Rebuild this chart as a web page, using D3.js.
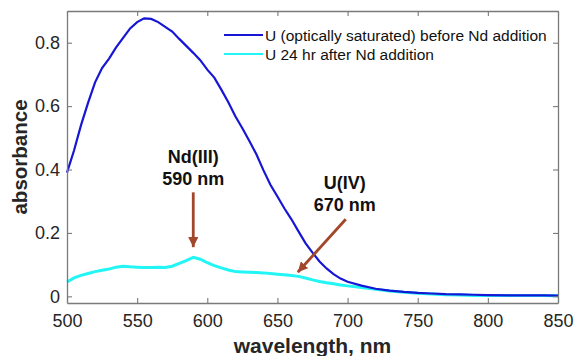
<!DOCTYPE html>
<html>
<head>
<meta charset="utf-8">
<script src="https://cdn.jsdelivr.net/npm/d3@7"></script>
<style>
  body { margin: 0; background: #fff; }
  svg text { font-family: Arial, "Liberation Sans", sans-serif; }
</style>
</head>
<body>
<svg id="chart" width="574" height="356"></svg>
<script>
// wavelength grid (nm)
const wavelengths = [500,505,510,515,520,525,530,535,540,545,550,555,560,565,570,575,580,585,590,595,
  600,605,610,615,620,625,630,635,640,645,650,655,660,665,670,675,680,685,690,695,
  700,710,720,730,740,750,760,770,780,790,800,820,840,850];

// U (optically saturated) before Nd addition
const beforeNd = [0.39,0.46,0.54,0.61,0.675,0.72,0.75,0.785,0.815,0.845,0.865,0.877,0.875,0.865,0.85,0.835,0.812,0.79,0.768,0.745,
  0.715,0.69,0.652,0.612,0.568,0.53,0.49,0.448,0.398,0.352,0.315,0.277,0.243,0.205,0.168,0.138,0.11,0.088,0.07,0.056,
  0.046,0.034,0.024,0.018,0.014,0.011,0.009,0.007,0.006,0.005,0.004,0.003,0.003,0.002];

// U 24 hr after Nd addition
const afterNd = [0.045,0.058,0.066,0.072,0.078,0.082,0.086,0.092,0.095,0.093,0.092,0.091,0.091,0.092,0.091,0.095,0.104,0.113,0.123,0.117,
  0.106,0.097,0.09,0.083,0.078,0.077,0.076,0.075,0.074,0.072,0.07,0.068,0.066,0.063,0.058,0.052,0.047,0.043,0.04,0.036,
  0.033,0.028,0.022,0.017,0.013,0.01,0.007,0.005,0.004,0.003,0.003,0.003,0.003,0.002];

const xTicks = [500,550,600,650,700,750,800,850];
const yTicks = [0,0.2,0.4,0.6,0.8];
const seriesNames = ["U (optically saturated) before Nd addition", "U 24 hr after Nd addition"];
const seriesColors = ["#1616d4", "#22f5f5"];

const svg = d3.select("#chart");
const margin = {left: 67, right: 16, top: 11, bottom: 53};
const W = 574, H = 356;

const x = d3.scaleLinear().domain([500, 850]).range([margin.left, W - margin.right]);
const y = d3.scaleLinear().domain([-0.021, 0.9]).range([H - margin.bottom, margin.top]);

const axisColor = "#7a7a7a";
const textColor = "#262626";

// curves
const line = d3.line()
  .x((d) => x(d[0]))
  .y((d) => y(d[1]));

const series = [beforeNd, afterNd].map((vals) => wavelengths.map((w, i) => [w, vals[i]]));

svg.append("path")
  .datum(series[1])
  .attr("d", line)
  .attr("fill", "none")
  .attr("stroke", seriesColors[1])
  .attr("stroke-width", 3);

svg.append("path")
  .datum(series[0])
  .attr("d", line)
  .attr("fill", "none")
  .attr("stroke", seriesColors[0])
  .attr("stroke-width", 2.2);

// axes box with inward ticks on all sides
const gx = svg.append("g").attr("transform", `translate(0,${y.range()[0]})`)
  .call(d3.axisBottom(x).tickValues(xTicks).tickSizeInner(-5).tickSizeOuter(0).tickPadding(11));
const gxTop = svg.append("g").attr("transform", `translate(0,${y.range()[1]})`)
  .call(d3.axisTop(x).tickValues(xTicks).tickSizeInner(-5).tickSizeOuter(0).tickFormat(""));
const gy = svg.append("g").attr("transform", `translate(${x.range()[0]},0)`)
  .call(d3.axisLeft(y).tickValues(yTicks).tickSizeInner(-5).tickSizeOuter(0).tickPadding(7)
    .tickFormat((d) => d === 0 ? "0" : d3.format(".1f")(d)));
const gyRight = svg.append("g").attr("transform", `translate(${x.range()[1]},0)`)
  .call(d3.axisRight(y).tickValues(yTicks).tickSizeInner(-5).tickSizeOuter(0).tickFormat(""));

[gx, gxTop, gy, gyRight].forEach((g) => {
  g.select(".domain").attr("stroke", axisColor).attr("stroke-width", 1.3);
  g.selectAll(".tick line").attr("stroke", axisColor).attr("stroke-width", 1.1);
  g.selectAll(".tick text").attr("fill", textColor).style("font-size", "18px");
});

// axis titles
svg.append("text")
  .attr("x", (x.range()[0] + x.range()[1]) / 2)
  .attr("y", 353)
  .attr("text-anchor", "middle")
  .attr("font-weight", "bold")
  .style("font-size", "21px")
  .attr("fill", textColor)
  .text("wavelength, nm");

svg.append("text")
  .attr("transform", `translate(27,${(y.range()[0] + y.range()[1]) / 2}) rotate(-90)`)
  .attr("text-anchor", "middle")
  .attr("font-weight", "bold")
  .style("font-size", "20.5px")
  .attr("fill", textColor)
  .text("absorbance");

// legend
const legend = svg.append("g").attr("transform", "translate(224,35)");
seriesNames.forEach((name, i) => {
  const row = legend.append("g").attr("transform", `translate(0,${i * 19})`);
  row.append("line")
    .attr("x1", 0).attr("x2", 39).attr("y1", 0).attr("y2", 0)
    .attr("stroke", seriesColors[i]).attr("stroke-width", 2);
  row.append("text")
    .attr("x", 41).attr("y", 5.5)
    .style("font-size", "15.5px")
    .attr("fill", "#111")
    .text(name);
});

// annotations
const arrowColor = "#a2472b";
svg.append("defs").append("marker")
  .attr("id", "head")
  .attr("viewBox", "0 0 10 10")
  .attr("refX", 10).attr("refY", 5)
  .attr("markerWidth", 3.6).attr("markerHeight", 3.6)
  .attr("markerUnits", "strokeWidth")
  .attr("orient", "auto")
  .append("path")
  .attr("d", "M0,0 L10,5 L0,10 Z")
  .attr("fill", arrowColor);

const notes = [
  {lines: ["Nd(III)", "590 nm"], tx: 590, ty: [0.442, 0.372], from: [590, 0.328], to: [590, 0.155]},
  {lines: ["U(IV)", "670 nm"], tx: 698, ty: [0.36, 0.288], from: [698.7, 0.243], to: [664.5, 0.076]}
];

notes.forEach((n) => {
  n.lines.forEach((t, i) => {
    svg.append("text")
      .attr("x", x(n.tx))
      .attr("y", y(n.ty[i]))
      .attr("dy", "0.35em")
      .attr("text-anchor", "middle")
      .attr("font-weight", "bold")
      .style("font-size", "18px")
      .attr("fill", "#111")
      .text(t);
  });
  svg.append("line")
    .attr("x1", x(n.from[0])).attr("y1", y(n.from[1]))
    .attr("x2", x(n.to[0])).attr("y2", y(n.to[1]))
    .attr("stroke", arrowColor)
    .attr("stroke-width", 2.8)
    .attr("marker-end", "url(#head)");
});
</script>
</body>
</html>
